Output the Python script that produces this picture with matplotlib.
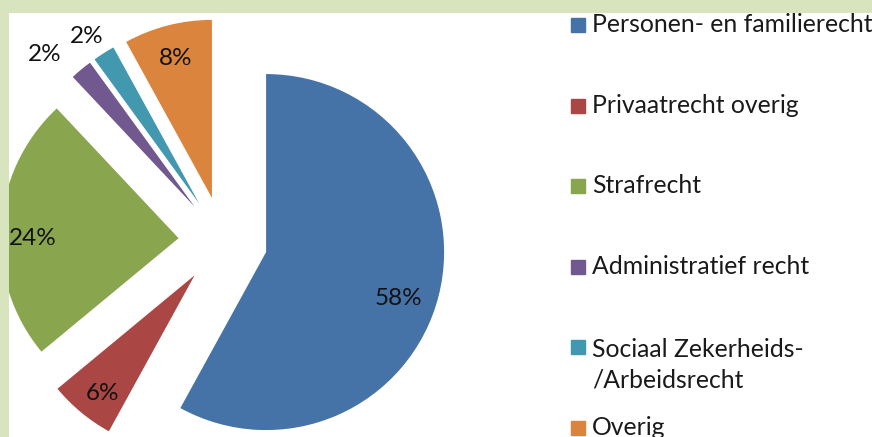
import matplotlib
matplotlib.use("Agg")
import matplotlib.pyplot as plt
from matplotlib.patches import Rectangle
import numpy as np

categories = ["Personen- en familierecht", "Privaatrecht overig", "Strafrecht",
              "Administratief recht", "Sociaal Zekerheids-\n/Arbeidsrecht", "Overig"]
shares = [58, 6, 24, 2, 2, 8]
colors = ["#4572a7", "#aa4643", "#89a54e", "#71588f", "#4198af", "#db843d"]

# label placement: distance from slice tip (in radii) and angular nudge (deg)
label_dist = [0.79, 0.84, 0.82, 1.20, 1.13, 0.81]
label_nudge = [-5, 1.6, 3.6, 5, 1.6, 0]

plt.rcParams["font.family"] = ["Lato", "DejaVu Sans"]

W, H = 872, 437
R = 178
fig = plt.figure(figsize=(W / 100, H / 100), dpi=100)
fig.patch.set_facecolor("#d7e4bd")

# white plot area; data units are pixels (y up)
ax = fig.add_axes([9 / W, 0, (W - 9) / W, (H - 13) / H])
wedges, _ = ax.pie(shares, colors=colors, startangle=90, counterclock=False,
                   explode=[0.25 * R] * len(shares), radius=R, center=(223, H - 241),
                   wedgeprops={"clip_on": True})
ax.set_xlim(9, W)
ax.set_ylim(0, H - 13)
ax.set_aspect("equal")
ax.set_frame_on(True)
ax.set_facecolor("white")
for s in ax.spines.values():
    s.set_visible(False)

# percentage labels
for w, s, d, nd in zip(wedges, shares, label_dist, label_nudge):
    ang = np.deg2rad((w.theta1 + w.theta2) / 2 + nd)
    x = w.center[0] + d * w.r * np.cos(ang)
    y = w.center[1] + d * w.r * np.sin(ang)
    ax.text(x, y, f"{s}%", ha="center", va="center", fontsize=17.5,
            color="#111111", clip_on=False)

# legend
lx, ly0, step, lsp = 571, 32, 80.6, 33
for i, (c, col) in enumerate(zip(categories, colors)):
    yb = H - (ly0 + i * step)
    ax.add_patch(Rectangle((lx, yb), 14, 14, color=col, clip_on=False))
    # baseline of a multi-line text sits on its last line
    ax.text(592, yb - c.count("\n") * lsp, c, fontsize=17.8, ha="left",
            va="baseline", linespacing=1.38, color="#1a1a1a", clip_on=False)

fig.savefig("out.png", dpi=100)
